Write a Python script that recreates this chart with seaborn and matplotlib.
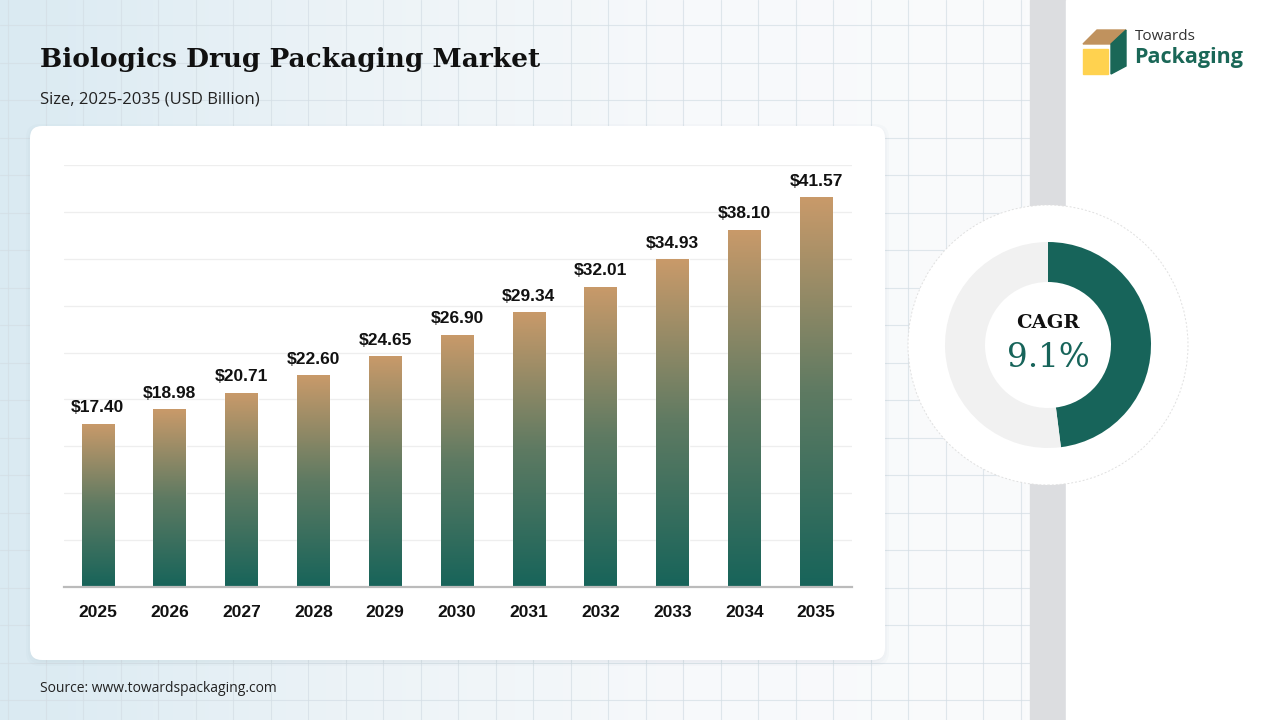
import numpy as np
import matplotlib
matplotlib.use('Agg')
import matplotlib.pyplot as plt
import seaborn as sns
from matplotlib.patches import FancyBboxPatch, Circle, Polygon, Rectangle
from matplotlib.colors import LinearSegmentedColormap

# Chart data
years = ['2025', '2026', '2027', '2028', '2029', '2030', '2031', '2032', '2033', '2034', '2035']
market_size = [17.40, 18.98, 20.71, 22.60, 24.65, 26.90, 29.34, 32.01, 34.93, 38.10, 41.57]
cagr_label = '9.1%'
cagr_share = [0.48, 0.52]

TAN = '#C99A6A'
GREEN = '#17645A'

sns.set_theme(style='white')
plt.rcParams['font.family'] = ['Liberation Sans', 'DejaVu Sans']

fig = plt.figure(figsize=(12.8, 7.2), dpi=100)

# Background layer in pixel coordinates
bg = fig.add_axes([0, 0, 1, 1])
bg.set_xlim(0, 1280)
bg.set_ylim(720, 0)
bg.axis('off')
grad = np.linspace(0, 1, 256).reshape(1, -1)
bg_cmap = LinearSegmentedColormap.from_list('bg', ['#DAEAF2', '#ECF3F7', '#F7F9FB', '#FAFBFC'])
bg.imshow(grad, extent=[0, 1030, 720, 0], cmap=bg_cmap, aspect='auto', zorder=0)
for gx in np.arange(8, 1030, 37.5):
    bg.plot([gx, gx], [0, 720], color='#D4DEE5', lw=0.8, alpha=0.7, zorder=1)
for gy in np.arange(25, 720, 37.5):
    bg.plot([0, 1030], [gy, gy], color='#D4DEE5', lw=0.8, alpha=0.7, zorder=1)
bg.add_patch(Rectangle((1030, 0), 36, 720, color='#DCDDE0', zorder=2))
bg.add_patch(Rectangle((1066, 0), 214, 720, color='white', zorder=2))

# Card with soft shadow
for i in range(3):
    bg.add_patch(FancyBboxPatch((30 - 2 * i, 128 - 2 * i), 855 + 4 * i, 534 + 4 * i,
                                boxstyle='round,pad=0,rounding_size=14',
                                fc='#7890A0', ec='none', alpha=0.03, zorder=3))
bg.add_patch(FancyBboxPatch((30, 126), 855, 534, boxstyle='round,pad=0,rounding_size=12',
                            fc='white', ec='none', zorder=4))

# Titles
fig.text(40 / 1280, 1 - 60 / 720, 'Biologics Drug Packaging Market', family='DejaVu Serif',
         fontweight='bold', fontsize=19, color='#111111', va='center')
fig.text(40 / 1280, 1 - 99 / 720, 'Size, 2025-2035 (USD Billion)', family='Open Sans',
         fontsize=12, color='#222222', va='center')
fig.text(40 / 1280, 1 - 689 / 720, 'Source: www.towardspackaging.com', family='Open Sans',
         fontsize=10, color='#222222', va='center')

# Logo
bg.add_patch(Polygon([[1083, 44], [1097, 30], [1126, 30], [1111, 44]], color='#C0925E', zorder=5))
bg.add_patch(Polygon([[1111, 44], [1126, 30], [1126, 66], [1111, 74]], color='#1A6757', zorder=5))
bg.add_patch(Rectangle((1083, 49), 25, 25, color='#FFD24F', zorder=5))
fig.text(1135 / 1280, 1 - 36 / 720, 'Towards', family='Open Sans', fontsize=11,
         color='#333333', va='center')
fig.text(1134 / 1280, 1 - 57 / 720, 'Packaging', family='Open Sans', fontweight='bold',
         fontsize=15.5, color='#1A6757', va='center')

# Bar chart
x0, x1, ytop, ybot = 64, 852, 165, 587
ax = fig.add_axes([x0 / 1280, 1 - ybot / 720, (x1 - x0) / 1280, (ybot - ytop) / 720])
ax.patch.set_alpha(0)
sns.barplot(x=years, y=market_size, ax=ax, color=TAN, width=0.45, saturation=1)
ax.set_yticks(np.arange(5, 46, 5))
ax.yaxis.grid(True, color='#EEEEEE', lw=0.9)
ax.set_axisbelow(True)
ax.tick_params(axis='y', left=False, labelleft=False)
ax.tick_params(axis='x', bottom=False, pad=7)
for lab in ax.get_xticklabels():
    lab.set_fontweight('bold')
    lab.set_fontsize(12.5)
    lab.set_color('#111111')
for s in ['top', 'right', 'left']:
    ax.spines[s].set_visible(False)
ax.spines['bottom'].set_color('#BBBBBB')
ax.spines['bottom'].set_linewidth(1.6)

# Swap flat bar fill for a vertical tan-to-green gradient
bar_cmap = LinearSegmentedColormap.from_list('bar', [GREEN, '#5E7A62', TAN])
vgrad = np.linspace(0, 1, 256).reshape(-1, 1)
for patch, val in zip(ax.patches, market_size):
    bx, by = patch.get_x(), patch.get_y()
    bw, bh = patch.get_width(), patch.get_height()
    patch.set_facecolor('none')
    im = ax.imshow(vgrad, extent=[bx, bx + bw, by, by + bh], origin='lower',
                   cmap=bar_cmap, aspect='auto', zorder=2)
    im.set_clip_path(patch)
    ax.annotate(f'${val:.2f}', (bx + bw / 2, by + bh), xytext=(0, 6),
                textcoords='offset points', ha='center', va='bottom',
                fontsize=12.5, fontweight='bold', color='#111111')
ax.set_xlim(-0.47, 10.5)
ax.set_ylim(0, 45)

# CAGR donut
cx, cy, size = 1048, 345, 300
dax = fig.add_axes([(cx - size / 2) / 1280, 1 - (cy + size / 2) / 720, size / 1280, size / 720])
dax.set_aspect('equal')
dax.axis('off')
dax.add_patch(Circle((0, 0), 140, fc='white', ec='#E0E0E0', lw=0.7, ls=(0, (2, 2))))
dax.pie(cagr_share, radius=103, colors=[GREEN, '#F1F1F1'], startangle=90,
        counterclock=False, wedgeprops=dict(width=40, edgecolor='none'))
dax.set_xlim(-150, 150)
dax.set_ylim(-150, 150)
dax.text(0, 22, 'CAGR', family='DejaVu Serif', fontweight='bold', fontsize=14,
         color='#111111', ha='center', va='center')
dax.text(0, -13, cagr_label, family='DejaVu Serif', fontsize=23.5, color=GREEN,
         ha='center', va='center')

fig.savefig('out.png', dpi=100)
